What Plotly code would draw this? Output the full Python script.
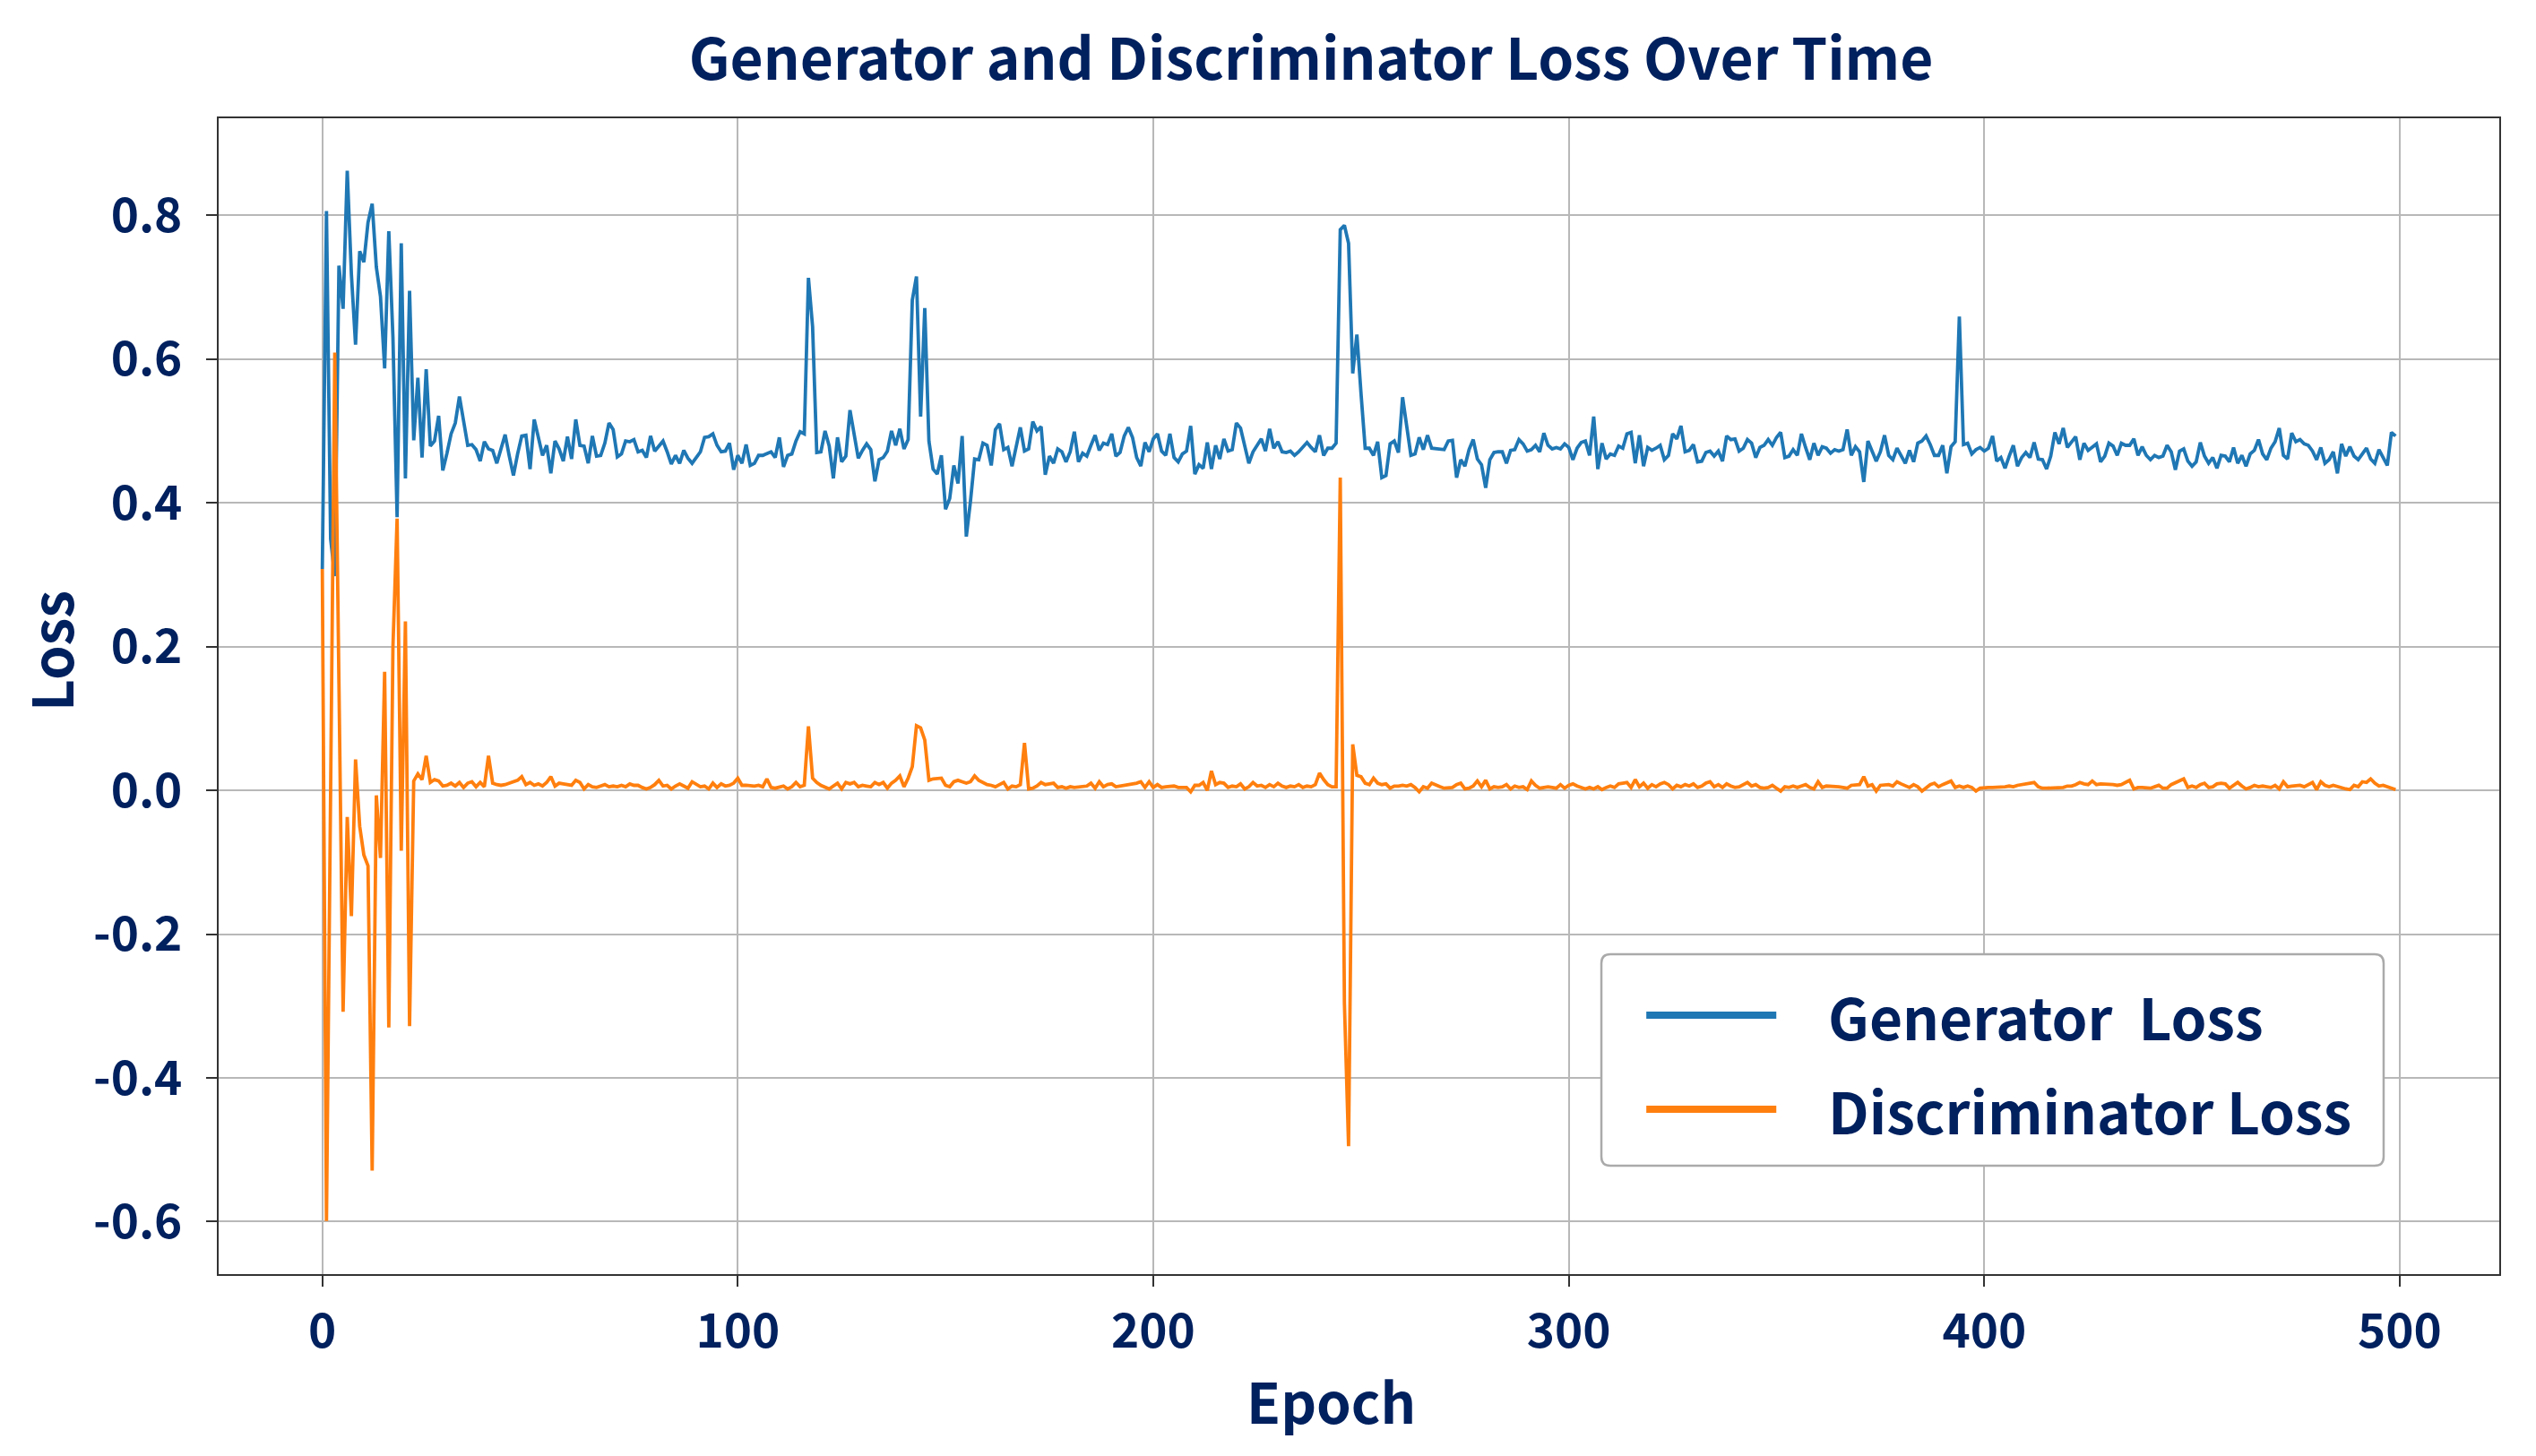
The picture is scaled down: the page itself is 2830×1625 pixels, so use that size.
import plotly.graph_objects as go

# ---------------- data ----------------
gen_e000_030 = [0.308, 0.806, 0.350, 0.298, 0.730, 0.670, 0.862, 0.718, 0.620, 0.750,
                0.735, 0.790, 0.816, 0.728, 0.687, 0.587, 0.778, 0.630, 0.380, 0.761,
                0.434, 0.695, 0.487, 0.574, 0.463, 0.586, 0.479, 0.486, 0.521, 0.445,
                0.469]
gen_e031_133 = [0.496, 0.511, 0.548, 0.514, 0.480, 0.481, 0.474, 0.458, 0.485, 0.475,
                0.473, 0.455, 0.476, 0.495, 0.465, 0.438, 0.468, 0.493, 0.494, 0.447,
                0.516, 0.489, 0.466, 0.480, 0.441, 0.486, 0.475, 0.458, 0.492, 0.461,
                0.516, 0.480, 0.479, 0.455, 0.493, 0.465, 0.466, 0.483, 0.511, 0.502,
                0.464, 0.468, 0.486, 0.485, 0.488, 0.471, 0.473, 0.463, 0.493, 0.472,
                0.479, 0.486, 0.471, 0.454, 0.466, 0.455, 0.473, 0.462, 0.455, 0.463,
                0.471, 0.491, 0.492, 0.496, 0.480, 0.471, 0.472, 0.483, 0.446, 0.466,
                0.455, 0.481, 0.452, 0.455, 0.466, 0.466, 0.468, 0.471, 0.463, 0.491,
                0.450, 0.466, 0.468, 0.486, 0.499, 0.496, 0.713, 0.645, 0.470, 0.471,
                0.500, 0.479, 0.434, 0.491, 0.457, 0.465, 0.529, 0.496, 0.462, 0.473,
                0.482, 0.474, 0.430]
gen_e134_232 = [0.460, 0.463, 0.472, 0.500, 0.480, 0.503, 0.475, 0.488, 0.682, 0.715,
                0.520, 0.671, 0.486, 0.447, 0.440, 0.466, 0.391, 0.406, 0.452, 0.427,
                0.493, 0.353, 0.402, 0.461, 0.460, 0.483, 0.480, 0.452, 0.502, 0.510,
                0.474, 0.477, 0.451, 0.480, 0.505, 0.472, 0.475, 0.513, 0.500, 0.506,
                0.439, 0.465, 0.455, 0.475, 0.471, 0.457, 0.471, 0.499, 0.457, 0.469,
                0.465, 0.480, 0.494, 0.473, 0.483, 0.481, 0.496, 0.465, 0.470, 0.493,
                0.505, 0.491, 0.463, 0.451, 0.484, 0.471, 0.489, 0.496, 0.472, 0.466,
                0.496, 0.463, 0.457, 0.468, 0.472, 0.507, 0.440, 0.453, 0.448, 0.484,
                0.447, 0.480, 0.461, 0.489, 0.472, 0.474, 0.511, 0.504, 0.477, 0.455,
                0.471, 0.481, 0.489, 0.472, 0.503, 0.476, 0.485, 0.471, 0.470]
gen_e233_331 = [0.472, 0.466, 0.471, 0.477, 0.484, 0.477, 0.471, 0.494, 0.466, 0.476,
                0.476, 0.483, 0.780, 0.786, 0.761, 0.580, 0.634, 0.552, 0.476, 0.476,
                0.466, 0.485, 0.435, 0.438, 0.482, 0.486, 0.470, 0.547, 0.508, 0.466,
                0.468, 0.491, 0.474, 0.494, 0.476, 0.475, 0.474, 0.474, 0.486, 0.487,
                0.435, 0.460, 0.451, 0.474, 0.488, 0.461, 0.453, 0.421, 0.460, 0.470,
                0.471, 0.471, 0.455, 0.473, 0.474, 0.488, 0.482, 0.472, 0.474, 0.480,
                0.471, 0.497, 0.480, 0.475, 0.477, 0.475, 0.482, 0.477, 0.460, 0.476,
                0.484, 0.486, 0.466, 0.520, 0.447, 0.483, 0.461, 0.468, 0.466, 0.479,
                0.476, 0.496, 0.498, 0.455, 0.494, 0.451, 0.477, 0.473, 0.476, 0.480,
                0.460, 0.466, 0.496, 0.489, 0.507, 0.471, 0.473, 0.481, 0.457]
gen_e332_430 = [0.458, 0.470, 0.472, 0.465, 0.472, 0.458, 0.493, 0.488, 0.489, 0.472,
                0.476, 0.488, 0.483, 0.463, 0.477, 0.480, 0.488, 0.480, 0.491, 0.498,
                0.463, 0.465, 0.474, 0.466, 0.496, 0.477, 0.460, 0.483, 0.466, 0.478,
                0.476, 0.469, 0.474, 0.472, 0.474, 0.502, 0.466, 0.478, 0.471, 0.429,
                0.486, 0.472, 0.458, 0.471, 0.494, 0.466, 0.460, 0.476, 0.466, 0.455,
                0.473, 0.457, 0.483, 0.486, 0.493, 0.481, 0.466, 0.466, 0.480, 0.441,
                0.478, 0.485, 0.659, 0.481, 0.483, 0.468, 0.474, 0.477, 0.472, 0.476,
                0.493, 0.458, 0.463, 0.448, 0.465, 0.480, 0.451, 0.463, 0.470, 0.463,
                0.484, 0.461, 0.460, 0.447, 0.465, 0.498, 0.482, 0.504, 0.477, 0.485,
                0.492, 0.460, 0.483, 0.473, 0.477, 0.482, 0.457, 0.465, 0.483]
gen_e431_499 = [0.479, 0.466, 0.483, 0.480, 0.480, 0.489, 0.466, 0.478, 0.466, 0.460,
                0.466, 0.463, 0.465, 0.480, 0.471, 0.446, 0.472, 0.475, 0.458, 0.451,
                0.457, 0.484, 0.465, 0.455, 0.463, 0.448, 0.466, 0.465, 0.457, 0.477,
                0.455, 0.466, 0.451, 0.468, 0.473, 0.488, 0.468, 0.460, 0.476, 0.485,
                0.504, 0.466, 0.461, 0.497, 0.485, 0.488, 0.482, 0.480, 0.472, 0.460,
                0.477, 0.455, 0.460, 0.471, 0.441, 0.482, 0.465, 0.478, 0.465, 0.460,
                0.468, 0.476, 0.461, 0.455, 0.474, 0.463, 0.452, 0.498, 0.493]

disc_e000_030 = [0.308, -0.599, 0.000, 0.609, 0.150, -0.308, -0.037, -0.175, 0.043, -0.050,
                 -0.090, -0.105, -0.529, -0.007, -0.094, 0.165, -0.330, 0.200, 0.378, -0.084,
                 0.235, -0.328, 0.013, 0.023, 0.015, 0.048, 0.011, 0.015, 0.013, 0.006,
                 0.007]
disc_e031_133 = [0.010, 0.006, 0.011, 0.004, 0.010, 0.012, 0.005, 0.011, 0.005, 0.048,
                 0.010, 0.008, 0.007, 0.008, 0.010, 0.011, 0.014, 0.019, 0.008, 0.011,
                 0.007, 0.009, 0.006, 0.011, 0.019, 0.006, 0.010, 0.009, 0.008, 0.007,
                 0.014, 0.011, 0.002, 0.008, 0.005, 0.004, 0.006, 0.008, 0.005, 0.006,
                 0.005, 0.007, 0.005, 0.009, 0.007, 0.007, 0.004, 0.002, 0.004, 0.008,
                 0.014, 0.006, 0.007, 0.002, 0.006, 0.009, 0.006, 0.003, 0.012, 0.008,
                 0.005, 0.006, 0.002, 0.010, 0.004, 0.009, 0.006, 0.007, 0.010, 0.017,
                 0.007, 0.007, 0.006, 0.006, 0.007, 0.005, 0.016, 0.004, 0.003, 0.004,
                 0.006, 0.002, 0.005, 0.011, 0.005, 0.007, 0.089, 0.017, 0.011, 0.007,
                 0.004, 0.002, 0.006, 0.010, 0.002, 0.011, 0.009, 0.011, 0.005, 0.007,
                 0.006, 0.005, 0.011]
disc_e134_232 = [0.008, 0.011, 0.003, 0.010, 0.014, 0.020, 0.005, 0.017, 0.033, 0.090,
                 0.087, 0.070, 0.014, 0.016, 0.016, 0.017, 0.007, 0.005, 0.012, 0.014,
                 0.012, 0.010, 0.012, 0.020, 0.014, 0.011, 0.008, 0.007, 0.005, 0.008,
                 0.011, 0.002, 0.006, 0.005, 0.008, 0.066, 0.002, 0.003, 0.006, 0.011,
                 0.008, 0.009, 0.010, 0.004, 0.005, 0.003, 0.005, 0.004, 0.005, 0.005,
                 0.006, 0.010, 0.003, 0.012, 0.005, 0.008, 0.009, 0.005, 0.006, 0.006,
                 0.008, 0.008, 0.010, 0.012, 0.004, 0.012, 0.004, 0.008, 0.004, 0.005,
                 0.005, 0.006, 0.004, 0.004, 0.004, -0.002, 0.007, 0.007, 0.011, 0.000,
                 0.027, 0.008, 0.011, 0.010, 0.004, 0.006, 0.005, 0.009, 0.002, 0.005,
                 0.011, 0.006, 0.007, 0.004, 0.008, 0.005, 0.010, 0.006, 0.004]
disc_e233_331 = [0.006, 0.005, 0.008, 0.004, 0.006, 0.005, 0.008, 0.024, 0.015, 0.008,
                 0.005, 0.005, 0.435, -0.296, -0.495, 0.064, 0.021, 0.019, 0.010, 0.008,
                 0.017, 0.010, 0.008, 0.009, 0.003, 0.006, 0.006, 0.007, 0.006, 0.008,
                 0.004, -0.002, 0.005, 0.003, 0.010, 0.007, 0.005, 0.003, 0.003, 0.004,
                 0.008, 0.010, 0.002, 0.003, 0.006, 0.013, 0.005, 0.014, 0.002, 0.005,
                 0.004, 0.005, 0.008, 0.002, 0.006, 0.004, 0.005, 0.001, 0.013, 0.007,
                 0.003, 0.004, 0.005, 0.004, 0.003, 0.008, 0.003, 0.007, 0.009, 0.006,
                 0.004, 0.002, 0.004, 0.002, 0.005, 0.001, 0.004, 0.006, 0.004, 0.009,
                 0.010, 0.011, 0.004, 0.015, 0.005, 0.010, 0.003, 0.008, 0.005, 0.009,
                 0.011, 0.008, 0.002, 0.007, 0.005, 0.008, 0.006, 0.009, 0.004]
disc_e332_430 = [0.006, 0.010, 0.012, 0.005, 0.008, 0.004, 0.009, 0.006, 0.004, 0.005,
                 0.008, 0.011, 0.006, 0.008, 0.004, 0.003, 0.004, 0.007, 0.003, -0.001,
                 0.005, 0.004, 0.006, 0.004, 0.006, 0.008, 0.004, 0.002, 0.012, 0.004,
                 0.006, 0.006, 0.005, 0.005, 0.004, 0.003, 0.007, 0.007, 0.008, 0.019,
                 0.006, 0.008, -0.001, 0.007, 0.007, 0.008, 0.006, 0.012, 0.009, 0.007,
                 0.004, 0.008, 0.005, -0.001, 0.003, 0.008, 0.010, 0.005, 0.008, 0.011,
                 0.013, 0.004, 0.006, 0.004, 0.006, 0.004, -0.001, 0.003, 0.004, 0.004,
                 0.004, 0.004, 0.005, 0.005, 0.006, 0.005, 0.007, 0.008, 0.009, 0.010,
                 0.011, 0.005, 0.003, 0.003, 0.003, 0.003, 0.003, 0.004, 0.006, 0.006,
                 0.008, 0.011, 0.009, 0.008, 0.013, 0.008, 0.009, 0.009, 0.008]
disc_e431_499 = [0.008, 0.007, 0.008, 0.011, 0.014, 0.002, 0.004, 0.004, 0.003, 0.003,
                 0.005, 0.007, 0.003, 0.003, 0.008, 0.011, 0.014, 0.016, 0.004, 0.006,
                 0.004, 0.008, 0.010, 0.004, 0.005, 0.009, 0.010, 0.009, 0.003, 0.007,
                 0.011, 0.006, 0.002, 0.004, 0.007, 0.005, 0.006, 0.005, 0.004, 0.007,
                 0.002, 0.012, 0.005, 0.006, 0.007, 0.007, 0.005, 0.008, 0.011, 0.001,
                 0.012, 0.007, 0.005, 0.007, 0.005, 0.003, 0.002, 0.001, 0.007, 0.005,
                 0.012, 0.011, 0.016, 0.010, 0.006, 0.007, 0.005, 0.004, 0.001]

generator_loss = (gen_e000_030 + gen_e031_133 + gen_e134_232 +
                  gen_e233_331 + gen_e332_430 + gen_e431_499)
discriminator_loss = (disc_e000_030 + disc_e031_133 + disc_e134_232 +
                      disc_e233_331 + disc_e332_430 + disc_e431_499)
epochs = list(range(len(generator_loss)))
disc_epochs = list(range(len(discriminator_loss)))

series_names = ["Generator  Loss", "Discriminator Loss"]
x_tick_vals = [0, 100, 200, 300, 400, 500]
x_tick_text = ["0", "100", "200", "300", "400", "500"]
y_tick_vals = [-0.6, -0.4, -0.2, 0.0, 0.2, 0.4, 0.6, 0.8]
y_tick_text = ["-0.6", "-0.4", "-0.2", "0.0", "0.2", "0.4", "0.6", "0.8"]

# ---------------- style ----------------
FONT = "Noto Sans CJK JP"
TEXT = "#00205e"
BLUE = "#1f77b4"
ORANGE = "#ff7f0e"
GRID = "#b8b8b8"
SPINE = "#333333"

fig = go.Figure()
fig.add_trace(go.Scatter(x=epochs, y=generator_loss, mode="lines", name=series_names[0],
                         line=dict(color=BLUE, width=3.8), showlegend=False))
fig.add_trace(go.Scatter(x=disc_epochs, y=discriminator_loss, mode="lines", name=series_names[1],
                         line=dict(color=ORANGE, width=3.8), showlegend=False))

axis_common = dict(
    showgrid=True, gridcolor=GRID, gridwidth=2,
    showline=True, linecolor=SPINE, linewidth=2, mirror=True,
    zeroline=False,
    ticks="outside", ticklen=12, tickwidth=2, tickcolor=SPINE,
    tickfont=dict(family=FONT, size=53, color=TEXT, weight="bold"),
)

fig.update_layout(
    width=2830, height=1625,
    margin=dict(l=244, r=41, t=132, b=203, autoexpand=False),
    paper_bgcolor="white", plot_bgcolor="white",
    title=dict(text="Generator and Discriminator Loss Over Time",
               font=dict(family=FONT, size=64, color=TEXT, weight="bold"),
               x=0.517, xref="container", xanchor="center",
               y=0.9588, yref="container", yanchor="middle"),
    xaxis=dict(range=[-24.95, 523.95], tickvals=x_tick_vals, ticktext=x_tick_text,
               ticklabelstandoff=4, **axis_common),
    yaxis=dict(range=[-0.673, 0.935], tickvals=y_tick_vals, ticktext=y_tick_text,
               ticklabelstandoff=16, **axis_common),
    showlegend=False,
)

# axis titles (placed to match the reference exactly)
fig.add_annotation(text="Epoch", xref="paper", yref="paper", x=0.4880, y=-0.1085,
                   xanchor="center", yanchor="middle", showarrow=False,
                   font=dict(family=FONT, size=62, color=TEXT, weight="bold"))
fig.add_annotation(text="Loss", xref="paper", yref="paper", x=-0.0743, y=0.5395,
                   xanchor="center", yanchor="middle", showarrow=False, textangle=-90,
                   font=dict(family=FONT, size=62, color=TEXT, weight="bold"))

# ---------------- custom legend (matplotlib-like, long handles) ----------------
lx0, lx1, ly0, ly1 = 0.6063, 0.9493, 0.0938, 0.2767
rx, ry = 10 / 2545, 10 / 1290
legend_path = (f"M {lx0+rx},{ly0} L {lx1-rx},{ly0} Q {lx1},{ly0} {lx1},{ly0+ry} "
               f"L {lx1},{ly1-ry} Q {lx1},{ly1} {lx1-rx},{ly1} L {lx0+rx},{ly1} "
               f"Q {lx0},{ly1} {lx0},{ly1-ry} L {lx0},{ly0+ry} Q {lx0},{ly0} {lx0+rx},{ly0} Z")
fig.add_shape(type="path", path=legend_path, xref="paper", yref="paper",
              fillcolor="white", line=dict(color="#aaaaaa", width=2.5), layer="above")

legend_rows_y = [0.2240, 0.1426]
legend_colors = [BLUE, ORANGE]
for name, yy, col in zip(series_names, legend_rows_y, legend_colors):
    fig.add_shape(type="line", xref="paper", yref="paper",
                  x0=0.626, x1=0.683, y0=yy, y1=yy,
                  line=dict(color=col, width=8), layer="above")
    fig.add_annotation(text=name.replace("  ", "\u00a0 "), xref="paper", yref="paper",
                       x=0.7050, y=yy, xanchor="left", yanchor="middle",
                       showarrow=False,
                       font=dict(family=FONT, size=64, color=TEXT, weight="bold"))

fig.write_html("out.html",
               config={"displayModeBar": False},
               post_script="document.body.style.margin='0px';document.body.style.overflow='hidden';")
